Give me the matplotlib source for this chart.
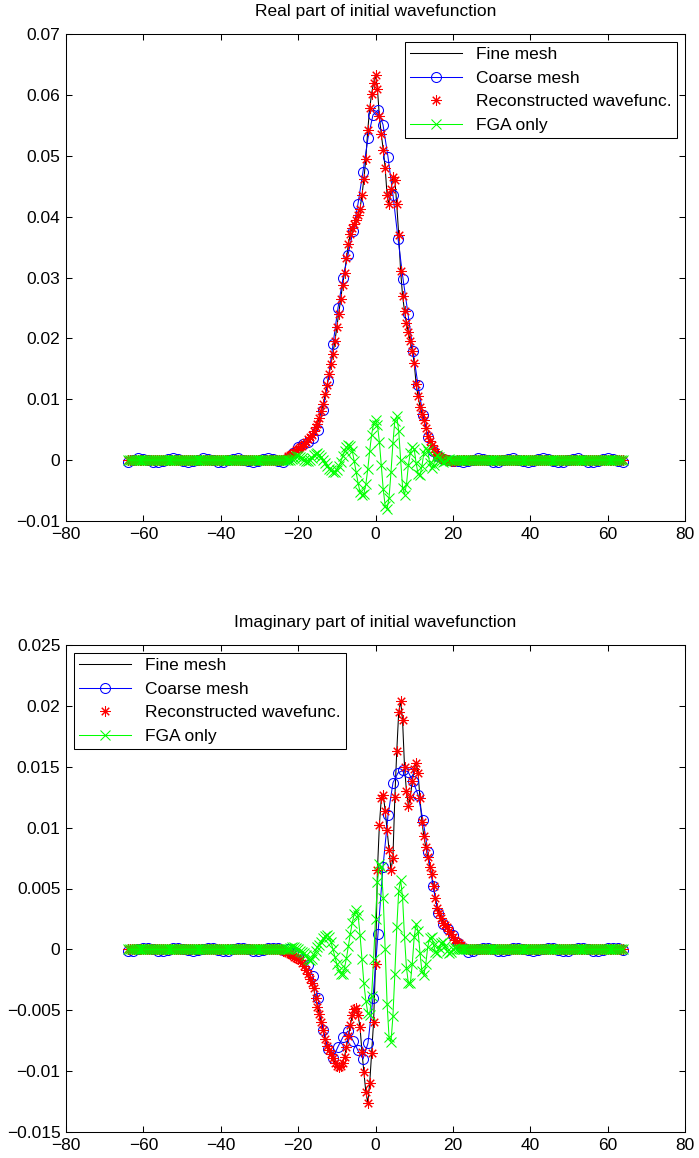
import numpy as np
import matplotlib
matplotlib.use('Agg')
import matplotlib.pyplot as plt
from matplotlib.ticker import FuncFormatter

plt.rcParams['font.family'] = ['Liberation Sans', 'DejaVu Sans']
plt.rcParams['font.size'] = 12.5

# coarse mesh: 100 points on [-64, 64]
x_coarse = np.linspace(-64, 64, 100)
# fine / reconstructed / FGA: dense grid, step 0.5 (values given on [-25, 25], flat zero outside)
x_dense = np.arange(-64, 64.25, 0.5)
n_tail = 78

coarse_real = [
    -0.00023, 0.00004, 0.00027, 0.00026, 0.00002, -0.00024, -0.00028, -0.00008, 0.00020, 0.00030,
    0.00013, -0.00015, -0.00030, -0.00018, 0.00010, 0.00029, 0.00022, -0.00005, -0.00027, -0.00025,
    -0.00001, 0.00025, 0.00028, 0.00006, -0.00021, -0.00029, -0.00012, 0.00017, 0.00030, 0.00016,
    -0.00012, -0.00029, 0.0004, 0.0012, 0.0021, 0.0026, 0.0030, 0.0036, 0.0050, 0.0082,
    0.0130, 0.0190, 0.0250, 0.0299, 0.0337, 0.0376, 0.0421, 0.0474, 0.0529, 0.0567,
    0.0575, 0.0551, 0.0498, 0.0435, 0.0364, 0.0298, 0.0240, 0.0180, 0.0123, 0.0074,
    0.0038, 0.0015, 0.0006, 0.0002, 0.0001, -0.0001, -0.0002, -0.0003, -0.0002, 0.00006,
    0.00028, 0.00025, -0.00001, -0.00025, -0.00027, -0.00005, 0.00022, 0.00029, 0.00010, -0.00018,
    -0.00030, -0.00015, 0.00013, 0.00030, 0.00020, -0.00007, -0.00028, -0.00024, 0.00002, 0.00026,
    0.00027, 0.00004, -0.00023, -0.00029, -0.00009, 0.00019, 0.00030, 0.00015, -0.00014, -0.00030,
]

coarse_imag = [
    -0.00010, -0.00012, 0.00002, 0.00014, 0.00013, 0.00001, -0.00012, -0.00014, -0.00004, 0.00010,
    0.00015, 0.00006, -0.00008, -0.00015, -0.00009, 0.00005, 0.00014, 0.00011, -0.00003, -0.00013,
    -0.00012, 0.00000, 0.00012, 0.00014, 0.00003, -0.00010, -0.00015, -0.00006, 0.00008, 0.00015,
    0.00008, -0.00006, 0.0000, -0.0003, -0.0005, -0.0008, -0.0013, -0.0022, -0.0040, -0.0066,
    -0.0082, -0.0089, -0.0080, -0.0072, -0.0067, -0.0075, -0.0083, -0.0090, -0.0077, -0.0040,
    0.0013, 0.0068, 0.0110, 0.0137, 0.0145, 0.0147, 0.0146, 0.0138, 0.0127, 0.0106,
    0.0080, 0.0052, 0.0030, 0.0021, 0.0017, 0.0012, 0.0005, 0.0001, -0.0002, -0.00010,
    0.00003, 0.00014, 0.00012, -0.00001, -0.00012, -0.00014, -0.00003, 0.00011, 0.00015, 0.00005,
    -0.00009, -0.00015, -0.00008, 0.00006, 0.00015, 0.00010, -0.00004, -0.00014, -0.00012, 0.00001,
    0.00013, 0.00014, 0.00002, -0.00012, -0.00015, -0.00005, 0.00010, 0.00015, 0.00008, -0.00007,
]

# x = -25 ... 25, step 0.5
fine_real = [
    0.0000, 0.0000, 0.0001, 0.0002, 0.0004, 0.0006, 0.0008, 0.0010, 0.0013, 0.0016,
    0.0019, 0.0022, 0.0024, 0.0027, 0.0030, 0.0034, 0.0038, 0.0042, 0.0048, 0.0054,
    0.0060, 0.0070, 0.0080, 0.0093, 0.0108, 0.0124, 0.0142, 0.0158, 0.0175, 0.0195,
    0.0218, 0.0240, 0.0265, 0.0288, 0.0308, 0.0332, 0.0355, 0.0372, 0.0382, 0.0388,
    0.0395, 0.0402, 0.0413, 0.0435, 0.0462, 0.0495, 0.0542, 0.0578, 0.0602, 0.0620,
    0.0632, 0.0610, 0.0565, 0.0535, 0.0510, 0.0480, 0.0435, 0.0420, 0.0445, 0.0465,
    0.0460, 0.0420, 0.0370, 0.0310, 0.0270, 0.0245, 0.0225, 0.0210, 0.0195, 0.0180,
    0.0160, 0.0125, 0.0105, 0.0088, 0.0076, 0.0066, 0.0052, 0.0040, 0.0031, 0.0025,
    0.0019, 0.0013, 0.0009, 0.0006, 0.0004, 0.0003, 0.0002, 0.0001, 0.0000, -0.0001,
    -0.0001, -0.0001, 0.0000, 0.0000, 0.0000, 0.0000, 0.0000, 0.0000, 0.0000, 0.0000,
    0.0000,
]
recon_real = fine_real  # stars sit on the fine-mesh curve

fga_real = [
    0.0000, 0.0000, 0.0000, 0.0000, 0.0000, 0.0000, 0.0001, 0.0002, 0.0004, 0.0006,
    0.0006, 0.0005, 0.0003, 0.0001, -0.0001, -0.0001, 0.0001, 0.0004, 0.0008, 0.0010,
    0.0011, 0.0009, 0.0005, 0.0000, -0.0005, -0.0010, -0.0014, -0.0017, -0.0019, -0.0019,
    -0.0016, -0.0010, -0.0003, 0.0006, 0.0015, 0.0021, 0.0025, 0.0024, 0.0015, -0.0002,
    -0.0020, -0.0038, -0.0052, -0.0058, -0.0055, -0.0040, -0.0015, 0.0015, 0.0042, 0.0060,
    0.0066, 0.0058, 0.0030, -0.0008, -0.0048, -0.0075, -0.0080, -0.0062, -0.0020, 0.0028,
    0.0065, 0.0072, 0.0048, 0.0000, -0.0045, -0.0057, -0.0040, -0.0008, 0.0012, 0.0022,
    0.0018, -0.0005, -0.0022, -0.0025, -0.0010, 0.0012, 0.0020, 0.0015, -0.0005, -0.0013,
    -0.0008, 0.0004, 0.0008, 0.0005, -0.0001, -0.0003, -0.0002, 0.0001, 0.0002, 0.0001,
    0.0000, 0.0000, 0.0000, 0.0000, 0.0000, 0.0000, 0.0000, 0.0000, 0.0000, 0.0000,
    0.0000,
]

fine_imag = [
    0.0000, 0.0000, -0.0001, -0.0001, -0.0002, -0.0003, -0.0004, -0.0005, -0.0006, -0.0007,
    -0.0008, -0.0009, -0.0011, -0.0014, -0.0017, -0.0020, -0.0024, -0.0028, -0.0032, -0.0040,
    -0.0047, -0.0053, -0.0060, -0.0066, -0.0074, -0.0079, -0.0083, -0.0086, -0.0089, -0.0093,
    -0.0096, -0.0097, -0.0096, -0.0093, -0.0088, -0.0080, -0.0071, -0.0062, -0.0054, -0.0049,
    -0.0048, -0.0054, -0.0064, -0.0084, -0.0101, -0.0117, -0.0126, -0.0110, -0.0085, -0.0060,
    -0.0012, 0.0065, 0.0102, 0.0124, 0.0127, 0.0114, 0.0098, 0.0082, 0.0065, 0.0075,
    0.0125, 0.0163, 0.0195, 0.0204, 0.0188, 0.0150, 0.0130, 0.0118, 0.0125, 0.0138,
    0.0148, 0.0153, 0.0145, 0.0124, 0.0105, 0.0093, 0.0084, 0.0076, 0.0068, 0.0062,
    0.0052, 0.0042, 0.0034, 0.0030, 0.0026, 0.0022, 0.0020, 0.0018, 0.0015, 0.0013,
    0.0010, 0.0008, 0.0006, 0.0005, 0.0004, 0.0002, 0.0001, 0.0000, 0.0000, 0.0000,
    0.0000,
]
recon_imag = fine_imag

fga_imag = [
    0.0000, 0.0000, 0.0000, 0.0000, 0.0000, 0.0000, 0.0001, 0.0002, 0.0002, 0.0001,
    0.0000, -0.0001, -0.0002, -0.0003, -0.0005, -0.0008, -0.0009, -0.0008, -0.0005, -0.0001,
    0.0002, 0.0004, 0.0006, 0.0009, 0.0011, 0.0012, 0.0010, 0.0006, 0.0000, -0.0006,
    -0.0012, -0.0017, -0.0020, -0.0020, -0.0015, -0.0007, 0.0003, 0.0013, 0.0022, 0.0029,
    0.0032, 0.0028, 0.0012, -0.0008, -0.0028, -0.0042, -0.0052, -0.0054, -0.0038, -0.0008,
    0.0025, 0.0055, 0.0070, 0.0068, 0.0042, 0.0000, -0.0045, -0.0072, -0.0076, -0.0055,
    -0.0020, 0.0018, 0.0048, 0.0057, 0.0042, 0.0010, -0.0015, -0.0028, -0.0028, -0.0012,
    0.0010, 0.0021, 0.0015, -0.0003, -0.0018, -0.0021, -0.0012, 0.0002, 0.0009, 0.0010,
    0.0004, -0.0002, -0.0003, 0.0001, 0.0005, 0.0006, 0.0003, -0.0001, -0.0003, -0.0002,
    0.0000, 0.0001, 0.0000, 0.0000, 0.0000, 0.0000, 0.0000, 0.0000, 0.0000, 0.0000,
    0.0000,
]

yticks_real = [-0.01, 0, 0.01, 0.02, 0.03, 0.04, 0.05, 0.06, 0.07]
yticks_imag = [-0.015, -0.01, -0.005, 0, 0.005, 0.01, 0.015, 0.02, 0.025]
xticks = [-80, -60, -40, -20, 0, 20, 40, 60, 80]
labels = ['Fine mesh', 'Coarse mesh', 'Reconstructed wavefunc.', 'FGA only']


def full(center):
    # pad the central values with the flat tails
    return np.concatenate([np.zeros(n_tail), center, np.zeros(n_tail)])


def draw(ax, fine, coarse, recon, fga, title, yticks, loc):
    lw = 0.75
    ax.plot(x_dense, full(fine), color='k', lw=lw, label=labels[0])
    ax.plot(x_coarse, coarse, color='b', lw=lw, marker='o', ms=7.2,
            mfc='none', mec='b', mew=lw, label=labels[1])
    ax.plot(x_dense, full(recon), ls='none', marker=(8, 2, 0), ms=7.5,
            mec='r', mew=lw, color='r', label=labels[2])
    ax.plot(x_dense, full(fga), color=(0, 1, 0), lw=lw, marker='x', ms=7,
            mew=lw, label=labels[3])

    ax.set_xlim(-80, 80)
    ax.set_ylim(yticks[0], yticks[-1])
    ax.set_xticks(xticks)
    ax.set_yticks(yticks)
    fmt = FuncFormatter(lambda v, p: ('%g' % v).replace('-', '\u2212'))
    ax.xaxis.set_major_formatter(fmt)
    ax.yaxis.set_major_formatter(fmt)
    ax.tick_params(direction='in', top=True, right=True, length=4.5, width=0.75, pad=4)
    for s in ax.spines.values():
        s.set_linewidth(0.75)
    ax.set_title(title, fontsize=12.5, pad=13)
    leg = ax.legend(loc=loc, fancybox=False, framealpha=1, edgecolor='k',
                    handlelength=3.0, borderaxespad=0.45, borderpad=0.3,
                    labelspacing=0.48)
    leg.get_frame().set_linewidth(0.75)


fig = plt.figure(figsize=(6.99, 11.58), dpi=100)
W, H = 699.0, 1158.0
ax1 = fig.add_axes([66 / W, 1 - 521 / H, 619 / W, 487 / H])
ax2 = fig.add_axes([66 / W, 1 - 1132 / H, 619 / W, 487 / H])

draw(ax1, fine_real, coarse_real, recon_real, fga_real,
     'Real part of initial wavefunction', yticks_real, 'upper right')
draw(ax2, fine_imag, coarse_imag, recon_imag, fga_imag,
     'Imaginary part of initial wavefunction', yticks_imag, 'upper left')

fig.savefig('out.png', dpi=100)
